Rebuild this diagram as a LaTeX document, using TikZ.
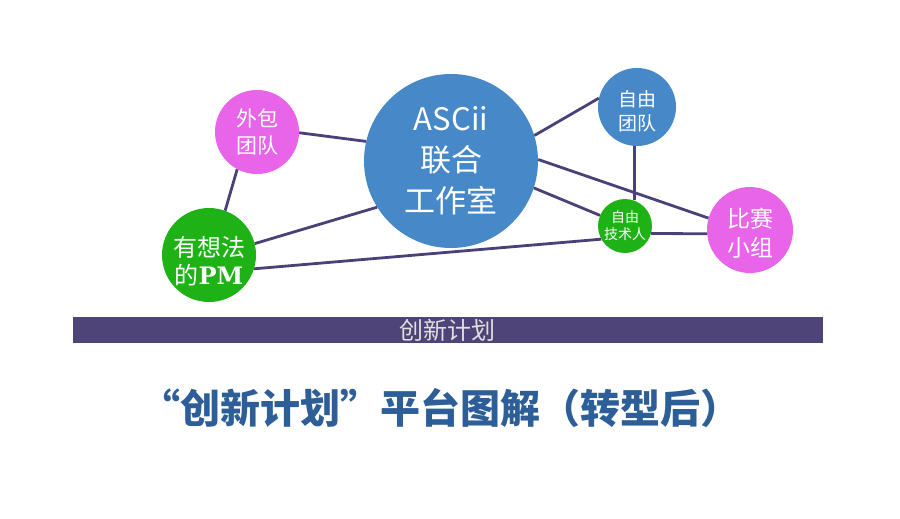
\documentclass[tikz,border=0pt]{standalone}
\usepackage{fontspec}
\newfontfamily\cjk{Noto Sans CJK SC}
\newfontfamily\pmfont{DejaVu Serif}
\definecolor{ascblue}{RGB}{70,136,200}
\definecolor{pinkc}{RGB}{232,100,232}
\definecolor{greenc}{RGB}{30,178,22}
\definecolor{linec}{RGB}{76,64,120}
\definecolor{barc}{RGB}{78,68,120}
\definecolor{titlec}{RGB}{46,94,152}
\tikzset{
  bub/.style={circle,inner sep=0pt,text=white,align=center,draw=none},
  conn/.style={draw=linec,line width=2.8pt},
}
\begin{document}
\begin{tikzpicture}[x=1pt,y=-1pt]
\useasboundingbox (0,0) rectangle (900,519);
\path (451,161) node[bub,fill=ascblue,minimum size=174pt,font={\cjk\fontsize{31}{41}\selectfont}] (asc) {ASCii\\联合\\工作室};
\path (257,132) node[bub,fill=pinkc,minimum size=84pt,font={\cjk\fontsize{21}{27}\selectfont}] (wb) {外包\\团队};
\path (209,255) node[bub,fill=greenc,minimum size=94pt] (pm) {};
\node[text=white,align=center,inner sep=0pt,font={\cjk\fontsize{24}{28}\selectfont}] (pmtext) at (209,261) {有想法\\的{\pmfont\bfseries PM}};
\path (637,107) node[bub,fill=ascblue,minimum size=78pt] (zt) {};
\node[text=white,align=center,inner sep=0pt,font={\cjk\fontsize{19}{24}\selectfont}] (zttext) at (637,111) {自由\\团队};
\path (625,226) node[bub,fill=greenc,minimum size=54pt,font={\cjk\fontsize{14}{17}\selectfont}] (js) {自由\\技术人};
\path (750,230) node[bub,fill=pinkc,minimum size=86pt] (bs) {};
\node[text=white,align=center,inner sep=0pt,font={\cjk\fontsize{23}{29}\selectfont}] (bstext) at (750,233) {比赛\\小组};
\draw[conn] (wb.-1) -- (asc.167);
\draw[conn] (wb.-118) -- (pm.70);
\draw[conn] (pm.14) -- (asc.212);
\draw[conn] (pm.-17) -- (js.209);
\draw[conn] (asc.17) -- (zt.167);
\draw[conn] (asc.1) -- (bs.164);
\draw[conn] (asc.-18) -- (js.157);
\draw[conn] (js.70) -- (js.70 |- zt.south);
\draw[conn] (js.-16) -- (bs.185);
% bar
\fill[barc] (73,317) rectangle (823,343);
\node[font={\cjk\fontsize{24}{26}\selectfont},text=white!88!black,inner sep=0pt] (bar) at (447,330) {创新计划};
% title
\node[font={\cjk\bfseries\fontsize{40}{44}\selectfont},text=titlec,inner sep=0pt] (title) at (440,408) {“创新计划”平台图解（转型后）};
\end{tikzpicture}
\end{document}
